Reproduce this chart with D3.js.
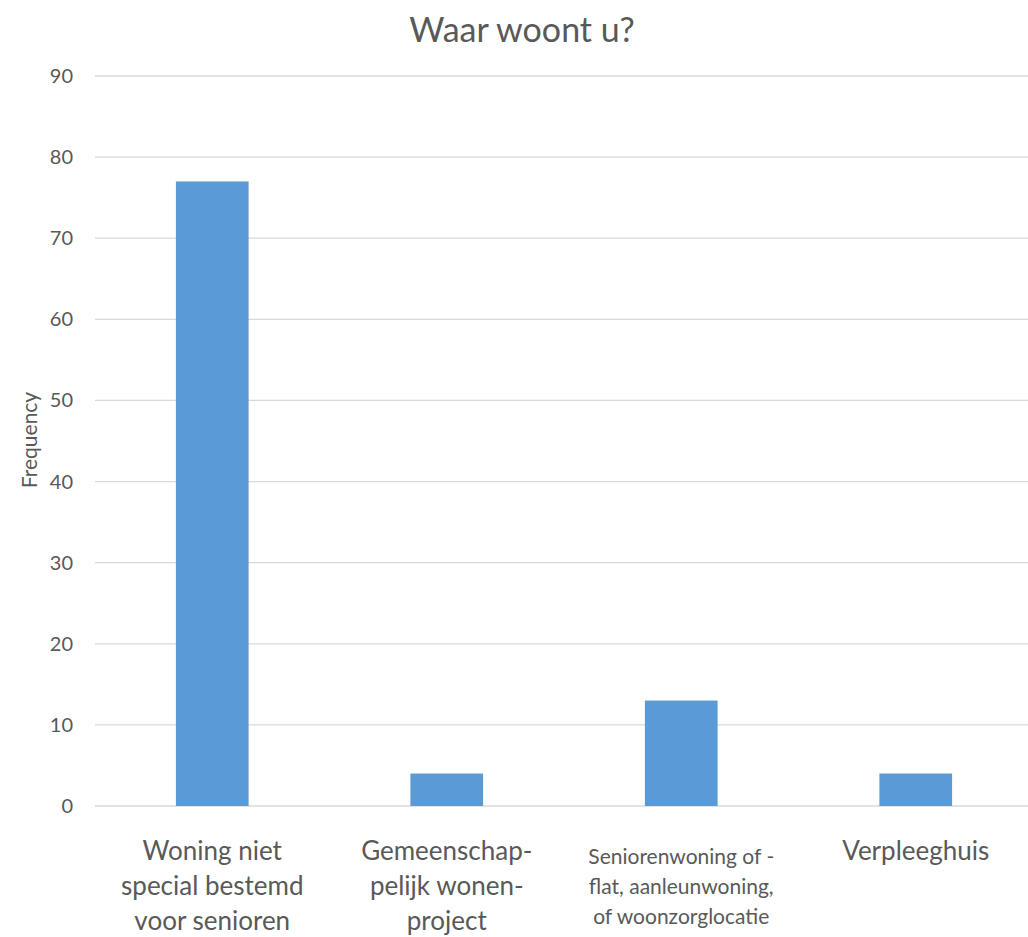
<!DOCTYPE html>
<html>
<head>
<meta charset="utf-8">
<script src="https://cdn.jsdelivr.net/npm/d3@7"></script>
<style>
  body { margin: 0; background: #fff; }
  text { font-family: Lato, "Open Sans", sans-serif; fill: #595959; }
</style>
</head>
<body>
<svg id="chart" width="1028" height="937"></svg>
<script>
// data
let categories = [
  ["Woning niet", "special bestemd", "voor senioren"],
  ["Gemeenschap-", "pelijk wonen-", "project"],
  ["Seniorenwoning of -", "flat, aanleunwoning,", "of woonzorglocatie"],
  ["Verpleeghuis"]
];
let frequency = [77, 4, 13, 4];
let yTicks = [0, 10, 20, 30, 40, 50, 60, 70, 80, 90];

let svg = d3.select("#chart");
let margin = {left: 95, right: 0, top: 76, bottom: 131};
let width = 1028, height = 937;

let x = d3.scaleBand()
  .domain(d3.range(categories.length))
  .range([margin.left, 1033])
  .paddingInner(0.69)
  .paddingOuter(0.345);

let y = d3.scaleLinear()
  .domain([0, 90])
  .range([height - margin.bottom, margin.top]);

// title
svg.append("text")
  .attr("x", 522)
  .attr("y", 42)
  .attr("text-anchor", "middle")
  .style("font-size", "34px")
  .text("Waar woont u?");

// gridlines
svg.append("g")
  .attr("class", "grid")
  .selectAll("line")
  .data(yTicks)
  .enter()
  .append("line")
    .attr("x1", margin.left)
    .attr("x2", 1030)
    .attr("y1", d => y(d))
    .attr("y2", d => y(d))
    .attr("stroke", "#d9d9d9")
    .attr("stroke-width", 1.3);

// y tick labels
svg.append("g")
  .selectAll("text")
  .data(yTicks)
  .enter()
  .append("text")
    .attr("x", 73)
    .attr("y", d => y(d))
    .attr("dy", "0.35em")
    .attr("text-anchor", "end")
    .style("font-size", "20px")
    .text(d => d);

// axis title
svg.append("text")
  .attr("transform", "translate(37," + 440 + ") rotate(-90)")
  .attr("text-anchor", "middle")
  .style("font-size", "21px")
  .text("Frequency");

// bars
svg.append("g")
  .selectAll("rect")
  .data(frequency)
  .enter()
  .append("rect")
    .attr("x", (d, i) => x(i))
    .attr("width", x.bandwidth())
    .attr("y", d => y(d))
    .attr("height", d => y(0) - y(d))
    .attr("fill", "#5b9bd5");

// category labels
let labels = svg.append("g")
  .selectAll("text")
  .data(categories)
  .enter()
  .append("text")
    .attr("text-anchor", "middle")
    .style("font-size", (d, i) => i === 2 ? "21px" : "26px");

labels.each(function(lines, i) {
  let step = i === 2 ? 30 : 35;
  let top = i === 2 ? 864 : 860;
  let cx = x(i) + x.bandwidth() / 2;
  d3.select(this).selectAll("tspan")
    .data(lines)
    .enter()
    .append("tspan")
      .attr("x", cx)
      .attr("y", (d, j) => top + j * step)
      .text(d => d);
});
</script>
</body>
</html>
